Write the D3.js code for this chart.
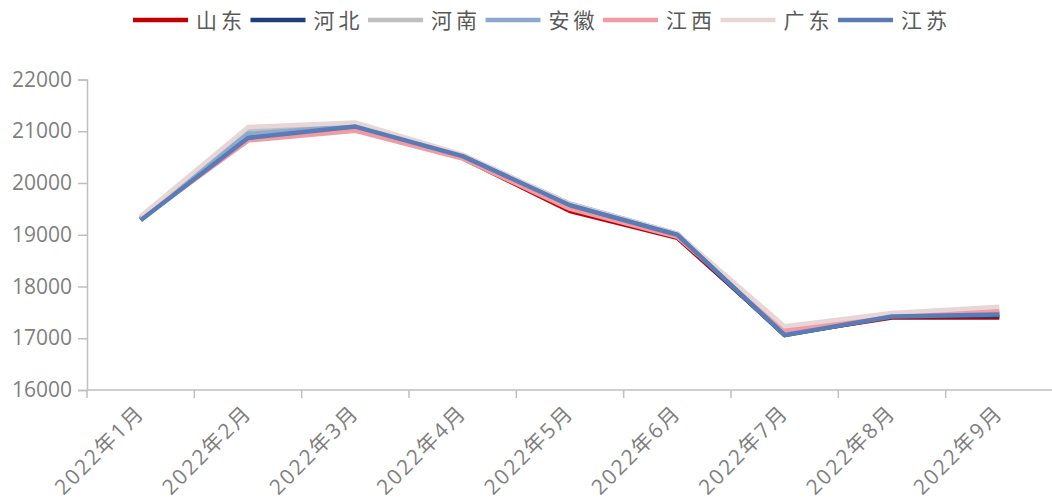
<!DOCTYPE html>
<html>
<head>
    <meta charset="utf-8">
    <title>价格走势</title>
    <script src="https://d3js.org/d3.v7.min.js"></script>
    <style>
        body { margin: 0; background: #fff; }
    </style>
</head>
<body>
<div id="chart"></div>

<script type="text/javascript">
    // categories
    let months = ["2022年1月", "2022年2月", "2022年3月", "2022年4月", "2022年5月",
                  "2022年6月", "2022年7月", "2022年8月", "2022年9月"]

    // series (legend order = draw order)
    let shandong = [19300, 20900, 21080, 20480, 19460, 18940, 17080, 17400, 17400]
    let hebei    = [19290, 20930, 21090, 20500, 19540, 18980, 17060, 17420, 17430]
    let henan    = [19340, 21030, 21130, 20530, 19580, 19010, 17150, 17460, 17500]
    let anhui    = [19320, 20950, 21100, 20540, 19600, 19020, 17120, 17440, 17480]
    let jiangxi  = [19310, 20820, 21010, 20470, 19500, 18960, 17160, 17440, 17530]
    let guangdong = [19360, 21080, 21170, 20550, 19590, 19020, 17230, 17490, 17610]
    let jiangsu  = [19280, 20870, 21090, 20520, 19570, 19000, 17060, 17420, 17460]

    let yTicks = [16000, 17000, 18000, 19000, 20000, 21000, 22000]

    let series = [
        {name: "山东", values: shandong, color: "#C00000"},
        {name: "河北", values: hebei, color: "#1F3E7C"},
        {name: "河南", values: henan, color: "#BFBFBF"},
        {name: "安徽", values: anhui, color: "#8EA9D0"},
        {name: "江西", values: jiangxi, color: "#F29BA5"},
        {name: "广东", values: guangdong, color: "#E8D6D6"},
        {name: "江苏", values: jiangsu, color: "#5B7BB5"}
    ]

    let W = 1052, H = 504
    let svg = d3.select("#chart").append("svg")
        .attr("width", W).attr("height", H)

    let xScale = d3.scaleBand().domain(months).range([87, 1053])
    let yScale = d3.scaleLinear().domain([16000, 22000]).range([390, 79.5])

    let axisColor = "#BFBFBF"
    let textColor = "#7F7F7F"

    // y axis
    let yAxis = svg.append("g")
        .attr("transform", "translate(87,0)")
        .call(d3.axisLeft(yScale).tickValues(yTicks).tickFormat(d3.format("d")).tickSize(9).tickPadding(6))
    yAxis.select(".domain").attr("stroke", axisColor).attr("stroke-width", 1.5)
    yAxis.selectAll(".tick line").attr("stroke", axisColor).attr("stroke-width", 1.5)
    yAxis.selectAll(".tick text")
        .attr("fill", textColor)
        .attr("font-family", "'Open Sans', sans-serif")
        .attr("font-size", "21px")

    // x axis
    let xAxisG = svg.append("g").attr("transform", "translate(0,390)")
    xAxisG.append("line")
        .attr("x1", 87).attr("x2", 1053)
        .attr("stroke", axisColor).attr("stroke-width", 1.5)
    xAxisG.selectAll(".xt")
        .data(months.concat(["end"]))
        .enter().append("line")
        .attr("x1", function(d, i) { return 87 + i * xScale.step() })
        .attr("x2", function(d, i) { return 87 + i * xScale.step() })
        .attr("y1", 0).attr("y2", 8)
        .attr("stroke", axisColor).attr("stroke-width", 1.5)

    xAxisG.selectAll(".xl")
        .data(months)
        .enter().append("text")
        .attr("transform", function(d) {
            return "translate(" + (xScale(d) + xScale.bandwidth() / 2 + 5) + ",24) rotate(-45)"
        })
        .attr("text-anchor", "end")
        .attr("fill", textColor)
        .attr("font-family", "'Open Sans', 'Noto Sans CJK SC', sans-serif")
        .attr("font-size", "21px")
        .attr("letter-spacing", "2px")
        .text(function(d) { return d })

    // lines
    let line = d3.line()
        .x(function(d, i) { return xScale(months[i]) + xScale.bandwidth() / 2 })
        .y(function(d) { return yScale(d) })

    series.forEach(function(s) {
        svg.append("path")
            .datum(s.values)
            .attr("d", line)
            .attr("fill", "none")
            .attr("stroke", s.color)
            .attr("stroke-width", 4.5)
            .attr("stroke-linejoin", "round")
    })

    // legend
    let legend = svg.append("g").attr("transform", "translate(133,20)")
    let item = legend.selectAll("g")
        .data(series)
        .enter().append("g")
        .attr("transform", function(d, i) { return "translate(" + (i * 117.5) + ",0)" })
    item.append("line")
        .attr("x1", 0).attr("x2", 55)
        .attr("y1", 0).attr("y2", 0)
        .attr("stroke", function(d) { return d.color })
        .attr("stroke-width", 4.5)
    item.append("text")
        .attr("x", 63).attr("y", 8)
        .attr("fill", "#595959")
        .attr("font-family", "'Noto Sans CJK SC', sans-serif")
        .attr("font-size", "21px")
        .attr("letter-spacing", "4px")
        .text(function(d) { return d.name })
</script>
</body>
</html>
